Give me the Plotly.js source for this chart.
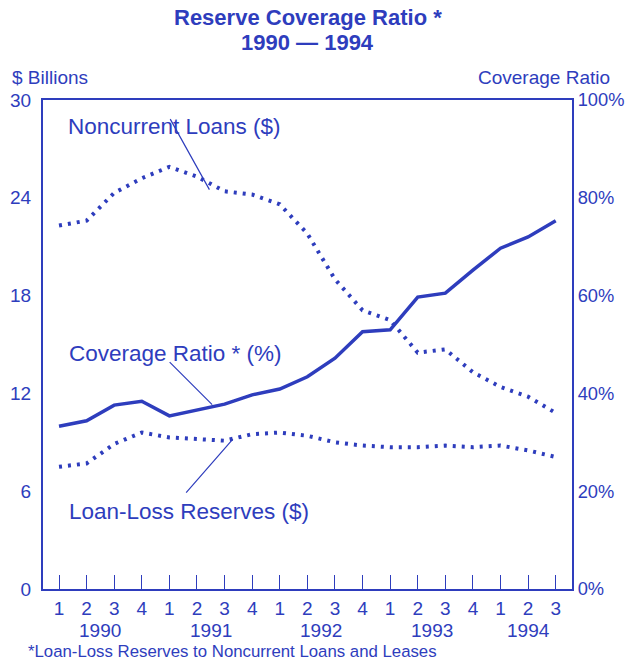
<!DOCTYPE html>
<html>
<head>
<meta charset="utf-8">
<script src="https://cdn.plot.ly/plotly-3.0.1.min.js"></script>
<style>
html,body{margin:0;padding:0;background:#fff;}
#chart{width:626px;height:660px;}
</style>
</head>
<body>
<div id="chart"></div>
<script>
// Quarters 1990Q1 .. 1994Q3
const quarterLabels = ["1","2","3","4","1","2","3","4","1","2","3","4","1","2","3","4","1","2","3"];
const years = ["1990","1991","1992","1993","1994"];
const yearCenters = [1.5, 5.5, 9.5, 13.5, 17];
// $ Billions
const noncurrentLoans = [22.3, 22.6, 24.3, 25.2, 25.9, 25.3, 24.4, 24.2, 23.6, 21.8, 19.0, 17.1, 16.5, 14.5, 14.7, 13.3, 12.4, 11.8, 10.8];
const loanLossReserves = [7.5, 7.7, 8.9, 9.6, 9.3, 9.2, 9.1, 9.5, 9.6, 9.4, 9.0, 8.8, 8.7, 8.7, 8.8, 8.7, 8.8, 8.5, 8.1];
// Coverage ratio, percent
const coverageRatio = [33.3, 34.4, 37.6, 38.4, 35.4, 36.6, 37.8, 39.7, 40.9, 43.4, 47.2, 52.6, 53.0, 59.7, 60.5, 65.2, 69.7, 72.0, 75.3];
const leftTicks = [0, 6, 12, 18, 24, 30];
const rightTicks = [0, 20, 40, 60, 80, 100];

const xs = quarterLabels.map((_, i) => i);
const BLUE = "#2e3dbd";
const FONT = "Liberation Sans, Arial, sans-serif";

const traces = [
  {x: xs, y: noncurrentLoans, type: "scatter", mode: "lines", name: "Noncurrent Loans ($)",
   line: {color: BLUE, width: 4, dash: "3px,6px"}, yaxis: "y"},
  {x: xs, y: loanLossReserves, type: "scatter", mode: "lines", name: "Loan-Loss Reserves ($)",
   line: {color: BLUE, width: 4, dash: "3px,6px"}, yaxis: "y"},
  {x: xs, y: coverageRatio, type: "scatter", mode: "lines", name: "Coverage Ratio * (%)",
   line: {color: BLUE, width: 3.5}, yaxis: "y2"}
];

const annotations = [];
// title (two lines)
annotations.push({x: 0.5, y: 1.168, xref: "paper", yref: "paper", text: "<b>Reserve Coverage Ratio *</b>", showarrow: false,
  xanchor: "center", yanchor: "middle", font: {family: FONT, size: 22, color: BLUE}});
annotations.push({x: 0.5, y: 1.117, xref: "paper", yref: "paper", text: "<b>1990 — 1994</b>", showarrow: false,
  xanchor: "center", yanchor: "middle", font: {family: FONT, size: 22, color: BLUE}});
years.forEach((yr, k) => {
  annotations.push({x: yearCenters[k], y: -0.085, xref: "x", yref: "paper", text: yr, showarrow: false,
    font: {family: FONT, size: 19, color: BLUE}, xanchor: "center", yanchor: "middle"});
});
// pointer lines from labels to series
annotations.push({x: 5.45, y: 24.5, xref: "x", yref: "y", text: "", showarrow: true, arrowhead: 0,
  arrowwidth: 1.2, arrowcolor: BLUE, ax: -40, ay: -72});
annotations.push({x: 5.55, y: 37.7, xref: "x", yref: "y2", text: "", showarrow: true, arrowhead: 0,
  arrowwidth: 1.2, arrowcolor: BLUE, ax: -44, ay: -44});
annotations.push({x: 6.3, y: 9.2, xref: "x", yref: "y", text: "", showarrow: true, arrowhead: 0,
  arrowwidth: 1.2, arrowcolor: BLUE, ax: -48, ay: 55});
// series labels
annotations.push({x: 0.044, y: 0.946, xref: "paper", yref: "paper", text: "Noncurrent Loans ($)", showarrow: false,
  xanchor: "left", yanchor: "middle", font: {family: FONT, size: 22.5, color: BLUE}});
annotations.push({x: 0.046, y: 0.482, xref: "paper", yref: "paper", text: "Coverage Ratio * (%)", showarrow: false,
  xanchor: "left", yanchor: "middle", font: {family: FONT, size: 22.5, color: BLUE}});
annotations.push({x: 0.046, y: 0.158, xref: "paper", yref: "paper", text: "Loan-Loss Reserves ($)", showarrow: false,
  xanchor: "left", yanchor: "middle", font: {family: FONT, size: 22.5, color: BLUE}});
// axis captions
annotations.push({x: -0.062, y: 1.045, xref: "paper", yref: "paper", text: "$ Billions", showarrow: false,
  xanchor: "left", yanchor: "middle", font: {family: FONT, size: 19, color: BLUE}});
annotations.push({x: 1.075, y: 1.045, xref: "paper", yref: "paper", text: "Coverage Ratio", showarrow: false,
  xanchor: "right", yanchor: "middle", font: {family: FONT, size: 19, color: BLUE}});
// footnote
annotations.push({x: -0.033, y: -0.128, xref: "paper", yref: "paper", text: "*Loan-Loss Reserves to Noncurrent Loans and Leases",
  showarrow: false, xanchor: "left", yanchor: "middle", font: {family: FONT, size: 16.8, color: BLUE}});

const layout = {
  width: 626, height: 660,
  margin: {l: 43, r: 54, t: 100, b: 71},
  paper_bgcolor: "#ffffff", plot_bgcolor: "rgba(0,0,0,0)",
  showlegend: false,
  font: {family: FONT, color: BLUE},
  xaxis: {range: [-0.58, 18.59], tickmode: "array", tickvals: xs, ticktext: quarterLabels,
    ticks: "inside", ticklen: 14, tickwidth: 1, tickcolor: BLUE,
    showgrid: false, zeroline: false, showline: true, linecolor: BLUE, linewidth: 2, mirror: true,
    tickfont: {family: FONT, size: 19, color: BLUE}, ticklabelstandoff: 1, fixedrange: true},
  yaxis: {range: [0, 30], tickmode: "array", tickvals: leftTicks, ticktext: leftTicks.map(String),
    ticks: "", showgrid: false, zeroline: false, showline: true, linecolor: BLUE, linewidth: 2,
    tickfont: {family: FONT, size: 19, color: BLUE}, ticklabelstandoff: 6},
  yaxis2: {range: [0, 100], overlaying: "y", side: "right", tickmode: "array", tickvals: rightTicks,
    ticktext: rightTicks.map(v => v + "%"), ticks: "", showgrid: false, zeroline: false,
    showline: true, linecolor: BLUE, linewidth: 2,
    tickfont: {family: FONT, size: 18.3, color: BLUE}, ticklabelstandoff: 0},
  annotations: annotations
};

Plotly.newPlot("chart", traces, layout, {displayModeBar: false, staticPlot: true});
</script>
</body>
</html>
